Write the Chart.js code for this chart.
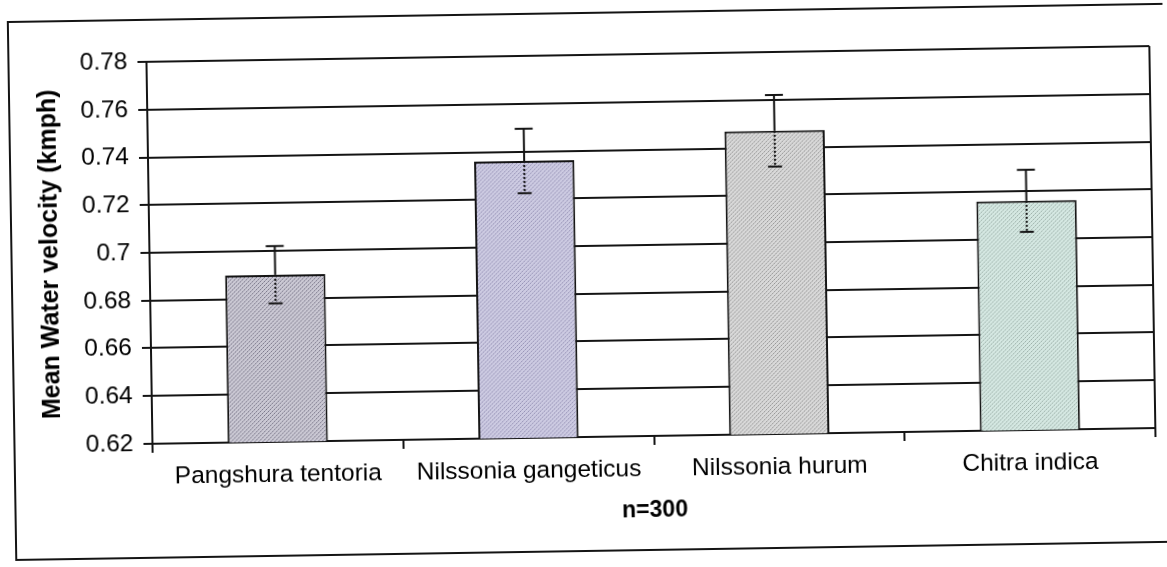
<!DOCTYPE html>
<html>
<head>
<meta charset="utf-8">
<title>Mean Water velocity</title>
<script src="https://cdn.jsdelivr.net/npm/chart.js@4.4.1/dist/chart.umd.min.js"></script>
<style>
    html, body { margin: 0; padding: 0; background: #fff; overflow: hidden; }
    #wrap { width: 1167px; height: 567px; }
    /* la hoja escaneada quedó un poco torcida */
    #grafico { display: block; transform: rotate(-0.9deg); transform-origin: 50% 50%; }
</style>
</head>
<body>
<div id="wrap">
    <canvas id="grafico" width="1167" height="567"></canvas>
</div>
<script>
    // Datos
    const especies = ['Pangshura tentoria', 'Nilssonia gangeticus', 'Nilssonia hurum', 'Chitra indica'];
    const velocidadMedia = [0.690, 0.736, 0.747, 0.716];
    const errorEstandar = [0.012, 0.0135, 0.015, 0.013];
    const ejeY = { min: 0.62, max: 0.78, paso: 0.02 };
    const tituloY = 'Mean Water velocity (kmph)';
    const tituloX = 'n=300';

    // Colores de cada barra: fondo y punteado
    const rellenos = [
        { base: '#cbc9d4', punto: '#6f6c80' },
        { base: '#cdcbe2', punto: '#8f8bb0' },
        { base: '#d9d9d9', punto: '#8e8e8e' },
        { base: '#d5e8e2', punto: '#96aaa3' }
    ];

    const FUENTE = "'Liberation Sans', Arial, sans-serif";
    const NEGRO = '#141414';

    // Trama punteada tipo Excel
    function crearTrama(base, punto) {
        const c = document.createElement('canvas');
        c.width = 4; c.height = 4;
        const g = c.getContext('2d');
        g.fillStyle = base;
        g.fillRect(0, 0, 4, 4);
        g.fillStyle = punto;
        [[0, 0], [2, 2], [1, 3], [3, 1]].forEach(([x, y], i) => {
            g.globalAlpha = i < 2 ? 0.9 : 0.5;
            g.fillRect(x, y, 1, 1);
        });
        return document.getElementById('grafico').getContext('2d').createPattern(c, 'repeat');
    }

    // Marco exterior de la figura y borde derecho del área del gráfico
    const marco = {
        id: 'marco',
        beforeDraw(chart) {
            const { ctx, chartArea } = chart;
            ctx.save();
            ctx.fillStyle = '#fff';
            ctx.fillRect(0, 0, chart.width, chart.height);
            ctx.strokeStyle = NEGRO;
            ctx.lineWidth = 2;
            ctx.strokeRect(12, 13, 1158, 538);
            ctx.beginPath();
            ctx.moveTo(chartArea.right, chartArea.top);
            ctx.lineTo(chartArea.right, chartArea.bottom);
            ctx.stroke();
            ctx.restore();
        }
    };

    // Barras de error: parte superior sólida, parte inferior punteada sobre la barra
    const barrasError = {
        id: 'barrasError',
        afterDatasetsDraw(chart) {
            const { ctx, scales: { y } } = chart;
            const meta = chart.getDatasetMeta(0);
            const linea = (x1, y1, x2, y2) => {
                ctx.beginPath();
                ctx.moveTo(x1, y1);
                ctx.lineTo(x2, y2);
                ctx.stroke();
            };
            ctx.save();
            ctx.strokeStyle = NEGRO;
            ctx.lineWidth = 2;
            meta.data.forEach((barra, i) => {
                const arriba = y.getPixelForValue(velocidadMedia[i] + errorEstandar[i]);
                const abajo = y.getPixelForValue(velocidadMedia[i] - errorEstandar[i]);
                const x = barra.x;

                ctx.setLineDash([]);
                linea(x, barra.y, x, arriba);
                linea(x - 9, arriba, x + 9, arriba);

                ctx.setLineDash([2, 2]);
                linea(x, barra.y, x, abajo);
                ctx.setLineDash([]);
                linea(x - 7, abajo, x + 7, abajo);
            });
            ctx.restore();
        }
    };

    new Chart(document.getElementById('grafico'), {
        type: 'bar',
        data: {
            labels: especies,
            datasets: [{
                label: tituloY,
                data: velocidadMedia,
                backgroundColor: rellenos.map(r => crearTrama(r.base, r.punto)),
                borderColor: NEGRO,
                borderWidth: 2,
                borderSkipped: false,
                categoryPercentage: 1,
                barPercentage: 0.4
            }]
        },
        options: {
            responsive: false,
            animation: false,
            layout: {
                padding: { left: 32, top: 55, right: 14, bottom: 38 }
            },
            plugins: {
                legend: { display: false },
                tooltip: { enabled: false }
            },
            scales: {
                x: {
                    afterFit: (scale) => { scale.height = 92; },
                    grid: {
                        offset: true,
                        drawOnChartArea: false,
                        drawTicks: true,
                        tickLength: 9,
                        color: NEGRO,
                        lineWidth: 2
                    },
                    border: { color: NEGRO, width: 2 },
                    ticks: {
                        color: '#000',
                        padding: 10,
                        maxRotation: 0,
                        font: { family: FUENTE, size: 24.5 }
                    },
                    title: {
                        display: true,
                        text: tituloX,
                        color: '#000',
                        font: { family: FUENTE, size: 23, weight: 'bold' }
                    }
                },
                y: {
                    min: ejeY.min,
                    max: ejeY.max,
                    afterFit: (scale) => { scale.width = 118; },
                    grid: {
                        color: NEGRO,
                        lineWidth: 2,
                        tickLength: 9
                    },
                    border: { color: NEGRO, width: 2 },
                    ticks: {
                        stepSize: ejeY.paso,
                        color: '#000',
                        padding: 10,
                        font: { family: FUENTE, size: 24.5 },
                        callback: (v) => String(parseFloat(Number(v).toFixed(2)))
                    },
                    title: {
                        display: true,
                        text: tituloY,
                        color: '#000',
                        font: { family: FUENTE, size: 25, weight: 'bold' }
                    }
                }
            }
        },
        plugins: [marco, barrasError]
    });
</script>
</body>
</html>
